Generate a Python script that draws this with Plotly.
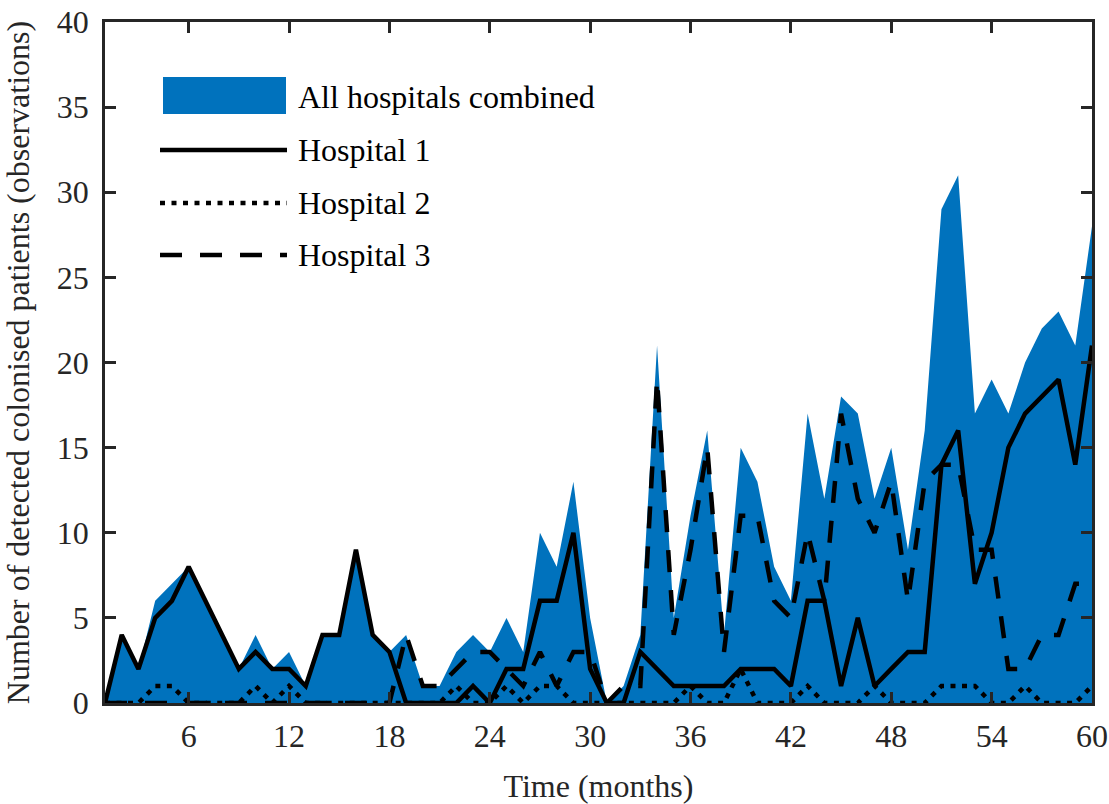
import plotly.graph_objects as go

# ---- data ----
months = list(range(1, 61))
all_hospitals = [0, 4, 2, 6, 7, 8, 6, 4, 2, 4,
                 2, 3, 1, 4, 4, 9, 4, 3, 4, 1,
                 1, 3, 4, 3, 5, 3, 10, 8, 13, 5,
                 0, 1, 4, 21, 5, 11, 16, 4, 15, 13,
                 8, 6, 17, 12, 18, 17, 12, 15, 9, 16,
                 29, 31, 17, 19, 17, 20, 22, 23, 21, 28]
hospital1 = [0, 4, 2, 5, 6, 8, 6, 4, 2, 3,
             2, 2, 1, 4, 4, 9, 4, 3, 0, 0,
             0, 0, 1, 0, 2, 2, 6, 6, 10, 2,
             0, 0, 3, 2, 1, 1, 1, 1, 2, 2,
             2, 1, 6, 6, 1, 5, 1, 2, 3, 3,
             14, 16, 7, 10, 15, 17, 18, 19, 14, 21]
hospital2 = [0, 0, 0, 1, 1, 0, 0, 0, 0, 1,
             0, 1, 0, 0, 0, 0, 0, 0, 0, 0,
             0, 1, 0, 0, 1, 0, 1, 1, 0, 0,
             0, 0, 0, 0, 0, 1, 0, 0, 2, 0,
             0, 0, 1, 0, 0, 0, 1, 0, 0, 0,
             1, 1, 1, 0, 0, 1, 0, 0, 0, 1]
hospital3 = [0, 0, 0, 0, 0, 0, 0, 0, 0, 0,
             0, 0, 0, 0, 0, 0, 0, 0, 4, 1,
             1, 2, 3, 3, 2, 1, 3, 1, 3, 3,
             0, 1, 1, 19, 4, 9, 15, 3, 11, 11,
             6, 5, 10, 6, 17, 12, 10, 13, 6, 13,
             14, 14, 9, 9, 2, 2, 4, 4, 7, 7]

x_ticks = [6, 12, 18, 24, 30, 36, 42, 48, 54, 60]
y_ticks = [0, 5, 10, 15, 20, 25, 30, 35, 40]
legend_labels = ["All hospitals combined", "Hospital 1", "Hospital 2", "Hospital 3"]

# ---- styles ----
BLUE = "#0072BD"
AX = "#262626"
FONT = "Liberation Serif"
FS = 32
LW = 4.5
DOT = "5px,6.5px"
DASH = "22px,18px"

fig = go.Figure()
fig.add_trace(go.Scatter(x=months, y=all_hospitals, mode="lines", fill="tozeroy",
                         fillcolor=BLUE, line=dict(width=0, color=BLUE),
                         name=legend_labels[0], showlegend=False))
fig.add_trace(go.Scatter(x=months, y=hospital1, mode="lines",
                         line=dict(color="black", width=LW),
                         name=legend_labels[1], showlegend=False))
fig.add_trace(go.Scatter(x=months, y=hospital2, mode="lines",
                         line=dict(color="black", width=LW, dash=DOT),
                         name=legend_labels[2], showlegend=False))
fig.add_trace(go.Scatter(x=months, y=hospital3, mode="lines",
                         line=dict(color="black", width=LW, dash=DASH),
                         name=legend_labels[3], showlegend=False))

# ---- custom legend (paper coordinates) ----
L, R, T, B = 105, 1092, 22, 703
W, H = R - L, B - T
def px(xp):
    return (xp - L) / W
def py(yp):
    return (B - yp) / H

shapes = [dict(type="rect", xref="paper", yref="paper",
               x0=px(163), x1=px(286), y0=py(114), y1=py(77),
               fillcolor=BLUE, line=dict(width=0))]
line_rows = [(150, None), (203, DOT), (255, DASH)]
for yy, dsh in line_rows:
    ln = dict(color="black", width=LW)
    if dsh:
        ln["dash"] = dsh
    shapes.append(dict(type="line", xref="paper", yref="paper",
                       x0=px(160), x1=px(287), y0=py(yy), y1=py(yy), line=ln))
text_rows = [97, 150, 203, 255]
annotations = []
for lab, yy in zip(legend_labels, text_rows):
    annotations.append(dict(text=lab, xref="paper", yref="paper", x=px(296), y=py(yy),
                            xanchor="left", yanchor="middle", showarrow=False,
                            font=dict(family=FONT, size=FS, color="black")))

fig.update_layout(
    width=1109, height=804,
    margin=dict(l=L, r=1109 - R, t=T, b=804 - B, autoexpand=False),
    paper_bgcolor="white", plot_bgcolor="white",
    font=dict(family=FONT, size=FS, color=AX),
    shapes=shapes, annotations=annotations,
    showlegend=False,
)
fig.update_xaxes(range=[1, 60], tickmode="array", tickvals=x_ticks, automargin=False,
                 ticks="inside", ticklen=11, tickwidth=2.5, tickcolor=AX,
                 showline=True, linecolor=AX, linewidth=2.5, mirror="ticks",
                 showgrid=False, zeroline=False, layer="above traces",
                 tickfont=dict(family=FONT, size=FS, color=AX), ticklabelstandoff=3,
                 title=dict(text="Time (months)", font=dict(family=FONT, size=FS, color=AX),
                            standoff=28))
fig.update_yaxes(range=[0, 40], tickmode="array", tickvals=y_ticks, automargin=False,
                 ticks="inside", ticklen=11, tickwidth=2.5, tickcolor=AX,
                 showline=True, linecolor=AX, linewidth=2.5, mirror="ticks",
                 showgrid=False, zeroline=False, layer="above traces",
                 tickfont=dict(family=FONT, size=FS, color=AX), ticklabelstandoff=7,
                 title=dict(text="Number of detected colonised patients (observations)",
                            font=dict(family=FONT, size=FS, color=AX), standoff=25))

fig.write_html("out.html")
